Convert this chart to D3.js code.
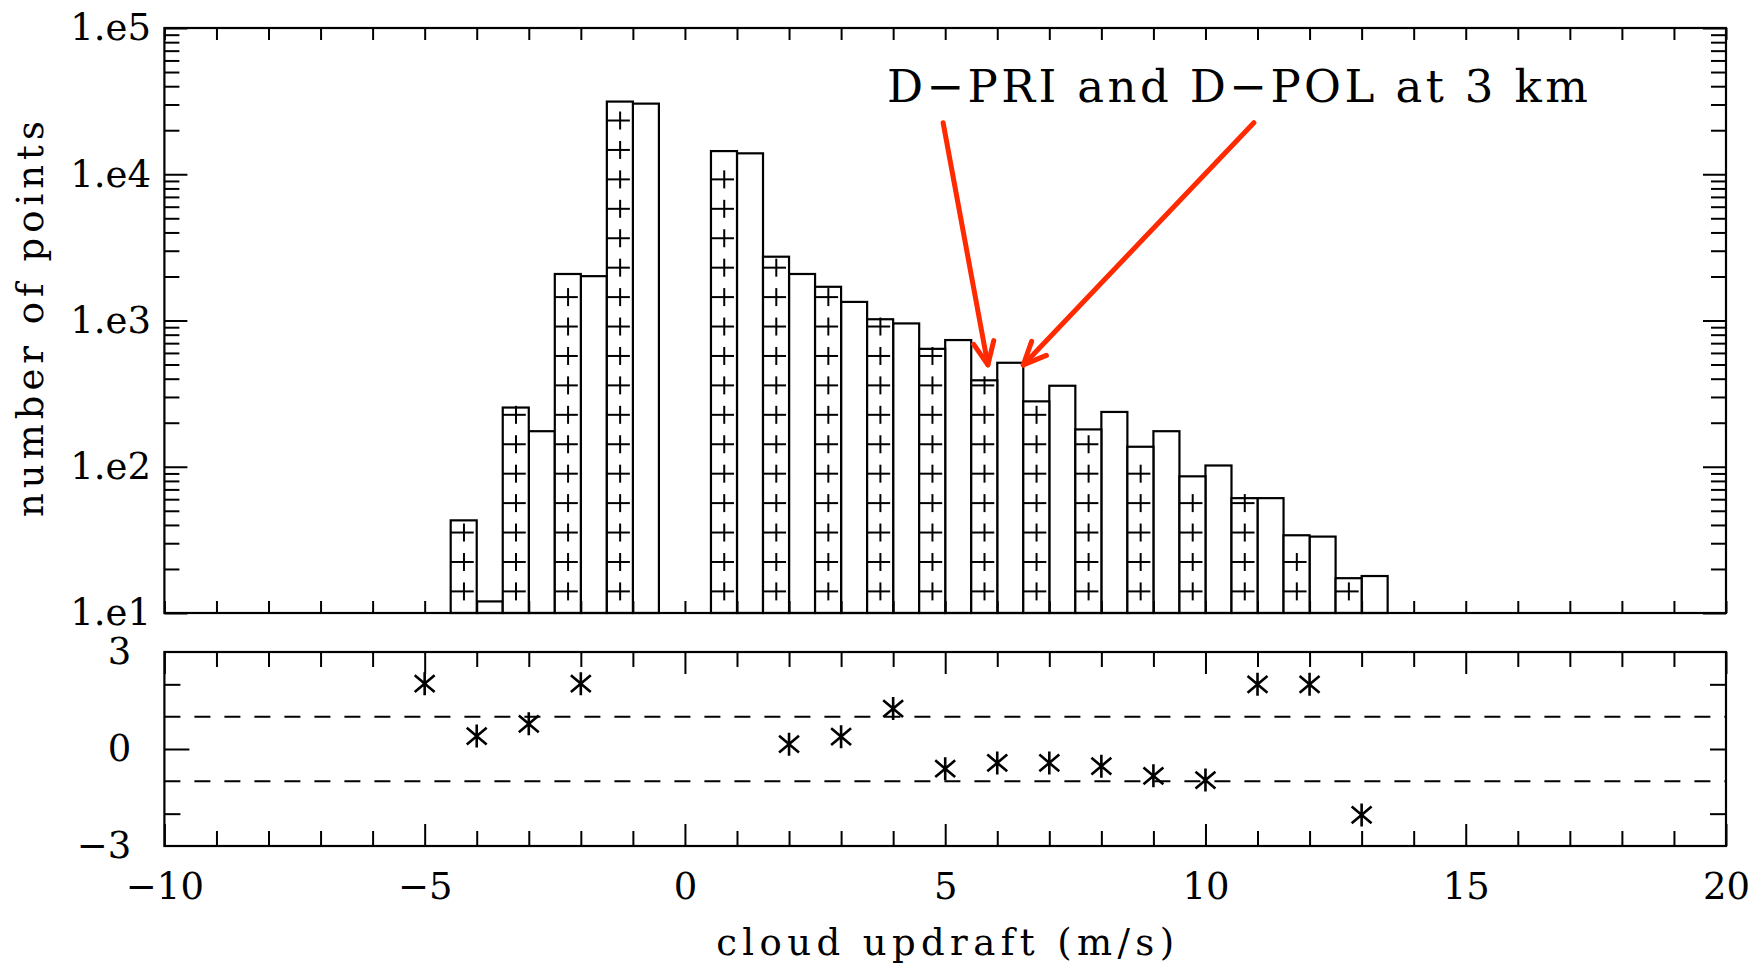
<!DOCTYPE html>
<html><head><meta charset="utf-8">
<script src="https://cdn.jsdelivr.net/npm/d3@7"></script>
<style>html,body{margin:0;padding:0;background:#fff;} svg{display:block;}</style>
</head><body>
<svg id="chart" width="1754" height="971"></svg>
<script>
// ---------------- data ----------------
const bins = [-4, -3, -2, -1, 1, 2, 3, 4, 5, 6, 7, 8, 9, 10, 11, 12, 13];
const dpri = [43, 254, 2080, 31400, 14400, 2730, 1700, 1020, 640, 390, 280, 180, 137, 86, 61, 34, 17.3];
const dpol = [12, 175, 2010, 30400, 13900, 2080, 1340, 955, 735, 514, 358, 237, 175, 102, 61, 33.3, 17.9];
const ratioX = [-5, -4, -3, -2, 2, 3, 4, 5, 6, 7, 8, 9, 10, 11, 12, 13];
const ratioY = [2.02, 0.40, 0.78, 2.02, 0.15, 0.38, 1.25, -0.61, -0.43, -0.43, -0.53, -0.83, -0.96, 2.0, 2.0, -2.04];
const xTickLabels = [-10, -5, 0, 5, 10, 15, 20];
const logTickValues = [10, 100, 1000, 10000, 100000];
const ratioTickLabels = [-3, 0, 3];
const refLines = [-1, 1];
const annotationText = "D\u2212PRI and D\u2212POL at 3 km";
const annotationPos = {x: 3.88, y: 31200};
const arrows = [
  {x0: 4.96, y0: 22500, x1: 5.82, y1: 497},
  {x0: 10.93, y0: 22500, x1: 6.50, y1: 497}
];

// ---------------- layout ----------------
const left = 164.4, right = 1726;
const upTop = 28, upBot = 613, loTop = 652, loBot = 846;
const SERIF = "'DejaVu Serif', 'Liberation Serif', serif";
const INK = "#000";

const x = d3.scaleLinear().domain([-10, 20]).range([left, right]);
const yU = d3.scaleLog().domain([10, 1e5]).range([upBot, upTop]);
const yL = d3.scaleLinear().domain([-3, 3]).range([loBot, loTop]);

const svg = d3.select('#chart');
svg.append('rect').attr('width', 1754).attr('height', 971).attr('fill', '#fff');

// ---------------- bars ----------------
const barsData = bins.map((b, i) => ({b, pri: dpri[i], pol: dpol[i]}));
const gBars = svg.append('g');
gBars.selectAll('rect.pol').data(barsData).join('rect').attr('class', 'pol')
  .attr('x', d => x(d.b)).attr('width', d => x(d.b + 0.5) - x(d.b))
  .attr('y', d => yU(d.pol)).attr('height', d => upBot - yU(d.pol))
  .attr('fill', '#fff').attr('stroke', INK).attr('stroke-width', 2.2);
gBars.selectAll('rect.pri').data(barsData).join('rect').attr('class', 'pri')
  .attr('x', d => x(d.b - 0.5)).attr('width', d => x(d.b) - x(d.b - 0.5))
  .attr('y', d => yU(d.pri)).attr('height', d => upBot - yU(d.pri))
  .attr('fill', '#fff').attr('stroke', INK).attr('stroke-width', 2.2);

// cross-hatch ("+" marks) in D-PRI bars
const plusStep = 29.43, plusOffset = 21.6;
const gPlus = svg.append('g').attr('stroke', INK).attr('stroke-width', 2);
barsData.forEach(d => {
  const x0 = x(d.b - 0.5), w = x(d.b) - x0, top = yU(d.pri);
  for (let yc = upBot - plusOffset; yc > top; yc -= plusStep) {
    gPlus.append('line').attr('x1', x0).attr('x2', x0 + w * 0.885).attr('y1', yc).attr('y2', yc);
    gPlus.append('line').attr('x1', x0 + w * 0.51).attr('x2', x0 + w * 0.51).attr('y1', yc - 9).attr('y2', yc + 9);
  }
});

// ---------------- axes ----------------
function styleAxis(g) {
  g.select('.domain').remove();
  g.selectAll('.tick line').attr('stroke', INK).attr('stroke-width', 2);
  g.selectAll('text').attr('font-family', SERIF).attr('font-size', 37).attr('fill', INK);
}
const unitTicks = d3.range(-10, 21);
const minorX = unitTicks.filter(v => v % 5 !== 0);
const logMinor = [];
[10, 100, 1000, 10000].forEach(p => { for (let k = 2; k <= 9; k++) logMinor.push(p * k); });

// upper panel
svg.append('g').attr('transform', `translate(0,${upBot})`)
  .call(d3.axisBottom(x).tickValues(unitTicks).tickSize(-12).tickSizeOuter(0).tickFormat('')).call(styleAxis);
svg.append('g').attr('transform', `translate(0,${upTop})`)
  .call(d3.axisTop(x).tickValues(unitTicks).tickSize(-12).tickSizeOuter(0).tickFormat('')).call(styleAxis);
svg.append('g').attr('transform', `translate(${left},0)`)
  .call(d3.axisLeft(yU).tickValues(logTickValues).tickSize(-23).tickSizeOuter(0).tickPadding(13.4)
    .tickFormat(d => '1.e' + Math.round(Math.log10(d)))).call(styleAxis);
svg.append('g').attr('transform', `translate(${left},0)`)
  .call(d3.axisLeft(yU).tickValues(logMinor).tickSize(-15).tickSizeOuter(0).tickFormat('')).call(styleAxis);
svg.append('g').attr('transform', `translate(${right},0)`)
  .call(d3.axisRight(yU).tickValues(logTickValues).tickSize(-23).tickSizeOuter(0).tickFormat('')).call(styleAxis);
svg.append('g').attr('transform', `translate(${right},0)`)
  .call(d3.axisRight(yU).tickValues(logMinor).tickSize(-15).tickSizeOuter(0).tickFormat('')).call(styleAxis);

// lower panel
svg.append('g').attr('transform', `translate(0,${loBot})`)
  .call(d3.axisBottom(x).tickValues(minorX).tickSize(-15).tickSizeOuter(0).tickFormat('')).call(styleAxis);
svg.append('g').attr('transform', `translate(0,${loBot})`)
  .call(d3.axisBottom(x).tickValues(xTickLabels).tickSize(-22).tickSizeOuter(0).tickPadding(27)
    .tickFormat(d3.format('d'))).call(styleAxis);
svg.append('g').attr('transform', `translate(0,${loTop})`)
  .call(d3.axisTop(x).tickValues(minorX).tickSize(-15).tickSizeOuter(0).tickFormat('')).call(styleAxis);
svg.append('g').attr('transform', `translate(0,${loTop})`)
  .call(d3.axisTop(x).tickValues(xTickLabels).tickSize(-22).tickSizeOuter(0).tickFormat('')).call(styleAxis);
svg.append('g').attr('transform', `translate(${left},0)`)
  .call(d3.axisLeft(yL).tickValues([-2, 2]).tickSize(-16).tickSizeOuter(0).tickFormat('')).call(styleAxis);
svg.append('g').attr('transform', `translate(${left},0)`)
  .call(d3.axisLeft(yL).tickValues([0]).tickSize(-25).tickSizeOuter(0).tickFormat('')).call(styleAxis);
svg.append('g').attr('transform', `translate(${left},0)`)
  .call(d3.axisLeft(yL).tickValues(ratioTickLabels).tickSize(0).tickSizeOuter(0).tickPadding(33)
    .tickFormat(d3.format('d'))).call(styleAxis);
svg.append('g').attr('transform', `translate(${right},0)`)
  .call(d3.axisRight(yL).tickValues([-2, 0, 2]).tickSize(-16).tickSizeOuter(0).tickFormat('')).call(styleAxis);

// frames
svg.append('rect').attr('x', left).attr('y', upTop).attr('width', right - left).attr('height', upBot - upTop)
  .attr('fill', 'none').attr('stroke', INK).attr('stroke-width', 2.2);
svg.append('rect').attr('x', left).attr('y', loTop).attr('width', right - left).attr('height', loBot - loTop)
  .attr('fill', 'none').attr('stroke', INK).attr('stroke-width', 2.2);

// reference dashed lines
svg.append('g').selectAll('line').data(refLines).join('line')
  .attr('x1', left).attr('x2', right).attr('y1', d => yL(d)).attr('y2', d => yL(d))
  .attr('stroke', INK).attr('stroke-width', 2).attr('stroke-dasharray', '16,14');

// asterisk markers (vertical stroke + two diagonals)
function asterisk(rv, rd) {
  const a = 40 * Math.PI / 180;
  const u = rd * Math.cos(a), t = rd * Math.sin(a);
  return `M0,${rv}L0,${-rv}M${-u},${-t}L${u},${t}M${-u},${t}L${u},${-t}`;
}
svg.append('g').selectAll('path').data(ratioX.map((v, i) => [v, ratioY[i]])).join('path')
  .attr('transform', d => `translate(${x(d[0])},${yL(d[1])})`)
  .attr('d', asterisk(11.5, 13)).attr('fill', 'none').attr('stroke', INK).attr('stroke-width', 2.6);

// axis titles
svg.append('text').attr('transform', 'translate(42.7,319) rotate(-90)')
  .attr('text-anchor', 'middle').attr('font-family', SERIF).attr('font-size', 37).attr('fill', INK)
  .attr('textLength', 396).attr('lengthAdjust', 'spacing').text('number of points');
svg.append('text').attr('x', (left + right) / 2).attr('y', 955)
  .attr('text-anchor', 'middle').attr('font-family', SERIF).attr('font-size', 37).attr('fill', INK)
  .attr('textLength', 458).attr('lengthAdjust', 'spacing').text('cloud updraft (m/s)');

// annotation
svg.append('text').attr('x', x(annotationPos.x)).attr('y', yU(annotationPos.y))
  .attr('font-family', SERIF).attr('font-size', 45).attr('fill', INK)
  .attr('textLength', 701).attr('lengthAdjust', 'spacing').text(annotationText);

const RED = '#ff2a00';
const gArr = svg.append('g').attr('stroke', RED).attr('stroke-width', 5).attr('stroke-linecap', 'round')
  .attr('stroke-linejoin', 'round').attr('fill', 'none');
arrows.forEach(a => {
  const X0 = x(a.x0), Y0 = yU(a.y0), X1 = x(a.x1), Y1 = yU(a.y1);
  gArr.append('line').attr('x1', X0).attr('y1', Y0).attr('x2', X1).attr('y2', Y1);
  const ang = Math.atan2(Y0 - Y1, X0 - X1), L = 25, s = 0.42;
  const p1 = [X1 + L * Math.cos(ang + s), Y1 + L * Math.sin(ang + s)];
  const p2 = [X1 + L * Math.cos(ang - s), Y1 + L * Math.sin(ang - s)];
  gArr.append('path').attr('d', `M${p1[0]},${p1[1]}L${X1},${Y1}L${p2[0]},${p2[1]}`);
});
</script>
</body></html>
